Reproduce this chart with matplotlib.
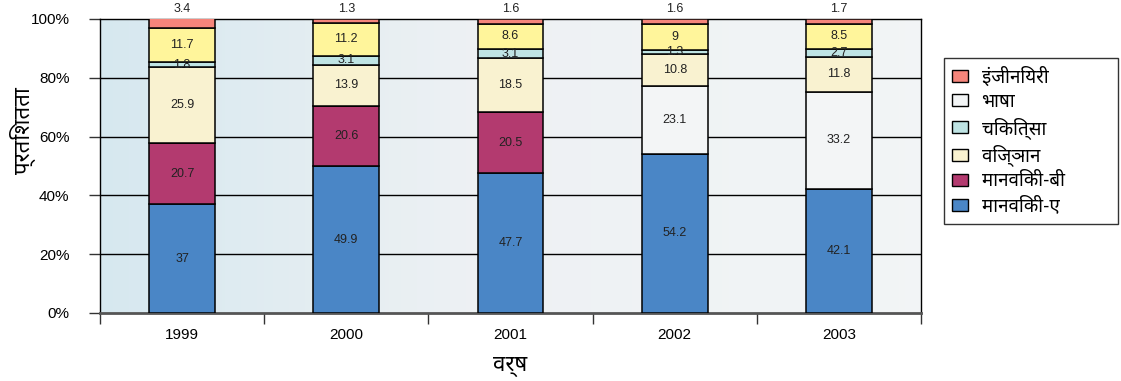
import matplotlib
matplotlib.use("Agg")
import matplotlib.pyplot as plt
import matplotlib.transforms as mtransforms
from matplotlib.patches import Patch
import numpy as np

plt.rcParams['font.family'] = ['Liberation Sans', 'Noto Sans Devanagari', 'DejaVu Sans']

# ---- data ----
years = ['1999', '2000', '2001', '2002', '2003']
manviki_a = [37, 49.9, 47.7, 54.2, 42.1]
manviki_b = [20.7, 20.6, 20.5, 0, 0]
bhasha = [0, 0, 0, 23.1, 33.2]
vigyan = [25.9, 13.9, 18.5, 10.8, 11.8]
chikitsa = [1.8, 3.1, 3.1, 1.3, 2.7]
anya = [11.7, 11.2, 8.6, 9, 8.5]          # yellow segment (not in legend)
engineering = [3.4, 1.3, 1.6, 1.6, 1.7]

series_names = ['मानविकी-ए', 'मानविकी-बी', 'भाषा', 'विज्ञान', 'चिकित्सा', None, 'इंजीनियरी']
series_vals = [manviki_a, manviki_b, bhasha, vigyan, chikitsa, anya, engineering]
colors = ['#4a86c6', '#b33a6f', '#f3f5f6', '#f9f2d0', '#bfe4e4', '#fff59b', '#f5857b']
legend_order = ['इंजीनियरी', 'भाषा', 'चिकित्सा', 'विज्ञान', 'मानविकी-बी', 'मानविकी-ए']

y_ticks = [0, 20, 40, 60, 80, 100]
y_ticklabels = ['0%', '20%', '40%', '60%', '80%', '100%']

fig = plt.figure(figsize=(11.21, 3.81), dpi=100)
ax = fig.add_axes([100/1121, 1-313/381, 821/1121, 294/381])

# background gradient
grad = np.linspace(0, 1, 256)
c0 = np.array([0.84, 0.91, 0.94])
c1 = np.array([0.93, 0.945, 0.955])
c2 = np.array([0.95, 0.96, 0.965])
img = np.zeros((2, 256, 3))
for i, t in enumerate(grad):
    if t < 0.45:
        img[:, i] = c0 + (c1 - c0) * (t / 0.45)
    else:
        img[:, i] = c1 + (c2 - c1) * ((t - 0.45) / 0.55)
ax.imshow(img, extent=[0, 1, 0, 1], transform=ax.transAxes, aspect='auto', zorder=0)

x = np.arange(len(years))
bottom = np.zeros(len(years))
trans_top = mtransforms.blended_transform_factory(ax.transData, ax.transAxes)
handles = {}
for name, vals, col in zip(series_names, series_vals, colors):
    vals = np.array(vals, dtype=float)
    ax.bar(x, vals, width=0.4, bottom=bottom, color=col, edgecolor='black',
           linewidth=1.1, zorder=3)
    for xi, v, b in zip(x, vals, bottom):
        if v <= 0:
            continue
        lab = ('%g' % v)
        if name == 'इंजीनियरी':
            ax.text(xi, 1.035, lab, transform=trans_top, ha='center', va='center',
                    fontsize=9, color='#222222')
        else:
            ax.text(xi, b + v / 2, lab, ha='center', va='center', fontsize=9,
                    color='#222222', zorder=4)
    if name:
        handles[name] = Patch(facecolor=col, edgecolor='black', linewidth=1.0)
    bottom = bottom + vals

ax.set_xlim(-0.5, len(years) - 0.5)
ax.set_ylim(0, 100)

# grid
for yv in y_ticks[1:-1]:
    ax.axhline(yv, color='black', linewidth=1.0, zorder=1)

ax.set_yticks(y_ticks)
ax.set_yticklabels(y_ticklabels, fontsize=11)
ax.tick_params(axis='y', length=8, width=1.0, direction='out', pad=14, color='#333333')

ax.set_xticks(np.arange(len(years) + 1) - 0.5)
ax.set_xticklabels([])
ax.set_xticks(x, minor=True)
ax.set_xticklabels(years, minor=True, fontsize=11)
ax.tick_params(axis='x', which='major', length=8, width=1.0, direction='out', color='#333333')
ax.tick_params(axis='x', which='minor', length=0, pad=11)

for s in ['left', 'right', 'top']:
    ax.spines[s].set_color('black')
    ax.spines[s].set_linewidth(1.0)
ax.spines['bottom'].set_color('#555555')
ax.spines['bottom'].set_linewidth(2.0)

ax.set_ylabel('प्रतिशतता', fontsize=16, fontweight='bold',
              family=['Noto Sans Devanagari'])
ax.yaxis.set_label_coords(-0.078, 0.62)
ax.set_xlabel('वर्ष', fontsize=16, fontweight='bold', labelpad=10,
              family=['Noto Sans Devanagari'])

leg = fig.legend([handles[n] for n in legend_order], legend_order,
                 loc='upper left', bbox_to_anchor=(944/1121, 1-222/381, 174/1121, 164/381),
                 mode='expand',
                 frameon=True, fancybox=False, edgecolor='black', fontsize=13.5,
                 handlelength=0.85, handleheight=0.6, labelspacing=0.32,
                 borderpad=0.45, handletextpad=0.7, borderaxespad=0)
leg.get_frame().set_linewidth(1.0)
for t in leg.get_texts():
    t.set_family(['Noto Sans Devanagari'])

fig.savefig('out.png', dpi=100)
